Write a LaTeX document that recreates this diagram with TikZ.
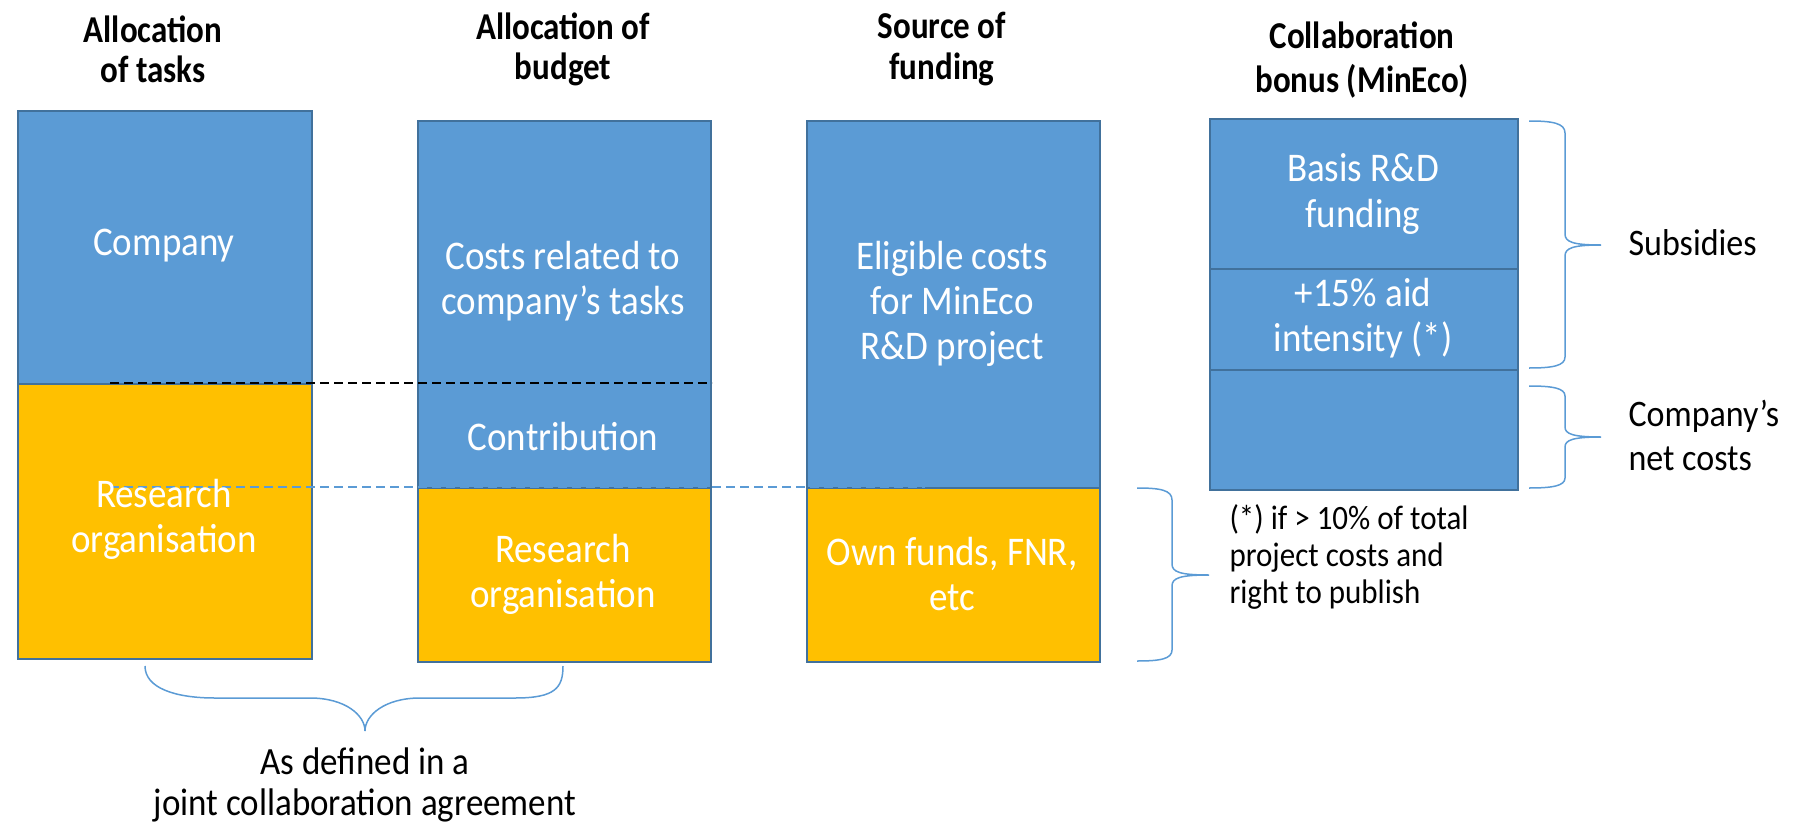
\documentclass[tikz,border=0pt]{standalone}
\usepackage{fontspec}
\setmainfont{Carlito}
\definecolor{boxblue}{HTML}{5B9BD5}
\definecolor{boxorange}{HTML}{FFC000}
\definecolor{edgeblue}{HTML}{41719C}
\begin{document}
\begin{tikzpicture}[x=1pt,y=-1pt,
 blk/.style={draw=edgeblue, line width=2pt, anchor=north west, inner sep=0pt},
 bluebox/.style={blk, fill=boxblue},
 orangebox/.style={blk, fill=boxorange},
 tall/.style={yscale=1.1, transform shape},
 intext/.style={tall, text=white, align=center, font=\fontsize{37}{41}\selectfont},
 head/.style={yscale=1.15, transform shape, align=center, font=\bfseries\fontsize{33}{35}\selectfont},
 side/.style={tall, align=left, anchor=west, font=\fontsize{34}{40}\selectfont},
 note/.style={tall, align=left, anchor=west, font=\fontsize{31}{34}\selectfont},
 bottomtext/.style={tall, align=center, font=\fontsize{35}{38}\selectfont},
 brace/.style={draw=boxblue, line width=1.5pt},
 guide/.style={dashed, dash pattern=on 9pt off 5pt, line width=1.5pt}
]
\path[use as bounding box] (0,0) rectangle (1810,827);

% headings
\node[head] (h1) at (153,49) {Allocation\\of tasks};
\node[head] (h2) at (563,49) {Allocation of\\budget};
\node[head] (h3) at (942,49) {Source of\\funding};
\node[head, font=\bfseries\fontsize{33}{39}\selectfont] (h4) at (1362,60) {Collaboration\\bonus (MinEco)};

% column 1
\node[bluebox, minimum width=294, minimum height=273] (c1a) at (17,110) {};
\node[orangebox, minimum width=294, minimum height=275] (c1b) at (17,383) {};
% column 2
\node[bluebox, minimum width=293, minimum height=367] (c2a) at (417,120) {};
\node[orangebox, minimum width=293, minimum height=174] (c2b) at (417,487) {};
% column 3
\node[bluebox, minimum width=293, minimum height=367] (c3a) at (806,120) {};
\node[orangebox, minimum width=293, minimum height=174] (c3b) at (806,487) {};
% column 4
\node[bluebox, minimum width=308, minimum height=150] (c4a) at (1209,118) {};
\node[bluebox, minimum width=308, minimum height=101] (c4b) at (1209,268) {};
\node[bluebox, minimum width=308, minimum height=120] (c4c) at (1209,369) {};

% dashed guides
\coordinate (d1s) at (110,383);
\draw[guide, black] (d1s) -- (d1s -| c2a.east);
\coordinate (d2s) at (110,487);
\coordinate (d2e) at (925,487);
\draw[guide, boxblue] (d2s) -- (d2e);

% box texts
\node[intext] (t1a) at (164,246) {Company};
\node[intext] (t1b) at (164,519) {Research\\organisation};
\node[intext] (t2a) at (563,281) {Costs related to\\company’s tasks};
\node[intext] (t2c) at (563,437) {Contribution};
\node[intext] (t2b) at (563,574) {Research\\organisation};
\node[intext] (t3a) at (952,304) {Eligible costs\\for MinEco\\R\&D project};
\node[intext] (t3b) at (952,574) {Own funds, FNR,\\etc};
\node[intext] (t4a) at (1363,194) {Basis R\&D\\funding};
\node[intext] (t4b) at (1363,318) {+15\% aid\\intensity (*)};

% side labels
\node[side] (sub) at (1625,243) {Subsidies};
\node[side] (net) at (1625,435) {Company’s\\net costs};
\node[note] (fn) at (1226,557) {(*) if > 10\% of total\\project costs and\\right to publish};
\node[bottomtext] (agr) at (365,785) {As defined in a\\joint collaboration agreement};

% braces
\draw[brace] (1529,121) .. controls (1552,121) and (1565,123) .. (1565,133) -- (1565,234)
  .. controls (1565,242) and (1573,245) .. (1601,245)
  .. controls (1573,245) and (1565,248) .. (1565,256) -- (1565,357)
  .. controls (1565,366) and (1552,368) .. (1529,368);
\draw[brace] (1529,386) .. controls (1552,386) and (1565,388) .. (1565,396) -- (1565,427)
  .. controls (1565,434) and (1573,437) .. (1601,437)
  .. controls (1573,437) and (1565,440) .. (1565,447) -- (1565,478)
  .. controls (1565,486) and (1552,488) .. (1529,488);
\draw[brace] (1137,488) .. controls (1160,488) and (1172,490) .. (1172,500) -- (1172,564)
  .. controls (1172,572) and (1180,575) .. (1209,575)
  .. controls (1180,575) and (1172,578) .. (1172,586) -- (1172,650)
  .. controls (1172,659) and (1160,661) .. (1137,661);
\draw[brace] (145,666) .. controls (145,688) and (175,698) .. (215,698) -- (310,698)
  .. controls (345,698) and (365,715) .. (365,731)
  .. controls (365,715) and (385,698) .. (420,698) -- (515,698)
  .. controls (555,698) and (563,688) .. (563,666);
\end{tikzpicture}
\end{document}
